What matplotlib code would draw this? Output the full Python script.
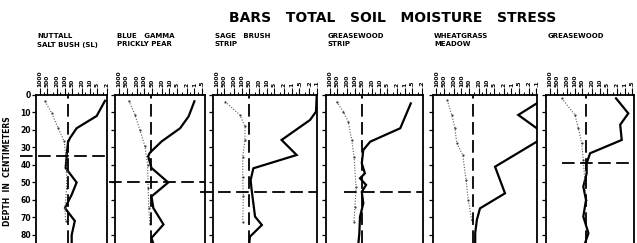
import matplotlib
matplotlib.use("Agg")
import matplotlib.pyplot as plt
from matplotlib.ticker import FixedLocator, FuncFormatter, NullFormatter

plt.rcParams["font.family"] = "DejaVu Sans"
plt.rcParams["font.weight"] = "bold"

TITLE = "BARS   TOTAL   SOIL   MOISTURE   STRESS"
panel_titles = [
    "NUTTALL\nSALT BUSH (SL)",
    "BLUE   GAMMA\nPRICKLY PEAR",
    "SAGE   BRUSH\nSTRIP",
    "GREASEWOOD\nSTRIP",
    "WHEATGRASS\nMEADOW",
    "GREASEWOOD",
]

# stress axis (bars, log scale) - left edge is the high stress end
x_left = 1400
x_right = [2.0, 0.39, 0.097, 0.18, 0.092, 0.42]
major_ticks = [1000, 500, 200, 100, 50, 20, 10, 5, 2, 1, 0.5, 0.2, 0.1]
minor_ticks = [700, 300, 150, 70, 30, 15, 7, 3, 1.5, 0.7, 0.3, 0.15]
depth_ticks = [0, 10, 20, 30, 40, 50, 60, 70, 80]

# vertical dashed reference stress and horizontal dashed depth per panel
ref_stress = [71, 54, 51, 49, 33, 36]
ref_depth = [35, 50, 55.6, 55.6, None, 39]

# total soil moisture stress (solid line)
nuttall_depth = [3.3, 12, 19, 24.6, 27, 35, 41.7, 50, 57, 64.6, 72, 80, 85]
nuttall_total = [2.4, 5.2, 33, 61, 73, 83, 91, 33, 52, 97, 39, 52, 52]
gamma_depth = [3.6, 12.2, 19, 26.5, 33, 35, 41.7, 50, 58, 64.6, 74, 81.7, 85]
gamma_total = [1.0, 1.7, 3.7, 20, 59, 69, 51, 11, 51, 43, 17, 51, 43]
sage_depth = [1, 9.5, 14.3, 25.7, 34.3, 41.9, 48.6, 54.3, 61.9, 69.5, 74.3, 81, 85]
sage_total = [0.103, 0.109, 0.19, 2.6, 0.65, 35, 45, 41, 35, 30, 16, 48, 51]
grease_strip_depth = [4.8, 19, 26.7, 31.4, 39, 44.8, 47.6, 51.4, 55.4, 61.9, 69.5, 79, 85]
grease_strip_total = [0.57, 1.5, 24, 45, 52, 39, 61, 35, 52, 45, 61, 65, 71]
wheat_depth = [1, 4.8, 11.4, 19, 23, 26.7, 41, 56.2, 64.8, 71.4, 79, 85]
wheat_total = [0.05, 0.097, 0.53, 0.097, 0.05, 0.097, 4.5, 1.8, 18, 24, 28, 28]
grease_depth = [1.9, 10.5, 17, 25.7, 33.3, 39, 44.8, 52.4, 60, 69.5, 79, 85]
grease_total = [2.2, 0.71, 1.5, 1.3, 24, 33, 33, 45, 35, 45, 28, 39]

# second profile (dotted line with dots)
nuttall_dot_depth = [3.6, 10.3, 19, 26.5, 34, 43.5, 53, 64.6, 72]
nuttall_dot = [611, 330, 180, 103, 91, 83, 83, 97, 91]
gamma_dot_depth = [3.3, 11.2, 19.8, 29.3, 39.8, 53, 64.6, 74]
gamma_dot = [407, 234, 148, 93, 73, 69, 65, 59]
sage_dot_depth = [3.8, 11.4, 18, 25.7, 35.2, 46.7, 58, 72.4]
sage_dot = [476, 120, 76, 76, 93, 93, 88, 93]
grease_strip_dot_depth = [3.8, 9.5, 15.2, 25.7, 35.2, 52.4, 63.8, 72.4]
grease_strip_dot = [522, 284, 180, 131, 106, 88, 97, 106]
wheat_dot_depth = [2.9, 11.4, 19, 27.6, 34.3, 48.6, 60, 71.4]
wheat_dot = [365, 243, 180, 153, 88, 65, 53, 39]
grease_dot_depth = [1.9, 11.4, 19, 27.6, 37.1, 49.5, 60]
grease_dot = [330, 97, 71, 52, 45, 39, 35]

solid = [
    (nuttall_depth, nuttall_total), (gamma_depth, gamma_total), (sage_depth, sage_total),
    (grease_strip_depth, grease_strip_total), (wheat_depth, wheat_total), (grease_depth, grease_total),
]
dotted = [
    (nuttall_dot_depth, nuttall_dot), (gamma_dot_depth, gamma_dot), (sage_dot_depth, sage_dot),
    (grease_strip_dot_depth, grease_strip_dot), (wheat_dot_depth, wheat_dot), (grease_dot_depth, grease_dot),
]

# layout (pixels in a 637 x 243 figure)
W, H = 637, 243
panel_left = [36, 115.3, 213.3, 326, 432.7, 546]
panel_width = [71, 89.4, 104, 97.3, 104.6, 88]
panel_top = 95
hline_start = [-0.23, -0.07, -0.13, 0.18, 0, 0.18]


def stress_label(v, pos=None):
    if v >= 1:
        return str(int(round(v)))
    return ("%g" % v).lstrip("0")


fig = plt.figure(figsize=(W / 100, H / 100), dpi=100)
fig.text(393 / W, 1 - 18 / H, TITLE, ha="center", va="center", fontsize=10, fontweight="bold")
fig.text(8 / W, 1 - 171 / H, "DEPTH  IN  CENTIMETERS", rotation=90, ha="center", va="center", fontsize=5.5)

for i in range(6):
    ax = fig.add_axes([panel_left[i] / W, 0, panel_width[i] / W, 1 - panel_top / H])
    ax.set_xscale("log")
    ax.set_xlim(x_left, x_right[i])
    ax.set_ylim(84.6, 0)

    d, s = solid[i]
    ax.plot(s, d, color="black", lw=1.6, solid_joinstyle="miter")
    d, s = dotted[i]
    ax.plot(s, d, color="0.35", lw=0.8, linestyle=(0, (1, 1.5)))
    ax.plot(s, d, linestyle="none", marker="o", ms=1.6, color="0.25", mec="none")

    ax.axvline(ref_stress[i], color="black", lw=1.3, dashes=(7, 3))
    if ref_depth[i] is not None:
        ax.axhline(ref_depth[i], xmin=hline_start[i], xmax=1, color="black", lw=1.3,
                   dashes=(7, 3), clip_on=False)

    ax.xaxis.tick_top()
    ax.xaxis.set_major_locator(FixedLocator(major_ticks))
    ax.xaxis.set_minor_locator(FixedLocator(minor_ticks))
    ax.xaxis.set_major_formatter(FuncFormatter(stress_label))
    ax.xaxis.set_minor_formatter(NullFormatter())
    ax.tick_params(axis="x", which="major", direction="out", length=5, width=0.8,
                   labelsize=4.3, pad=1, labelrotation=90)
    ax.tick_params(axis="x", which="minor", direction="out", length=2.5, width=0.7)

    ax.yaxis.set_major_locator(FixedLocator(depth_ticks))
    ax.tick_params(axis="y", direction="out", length=3, width=0.9, labelsize=5.5, pad=0.5,
                   labelleft=(i == 0))
    for side in ["top", "left", "right"]:
        ax.spines[side].set_linewidth(1.3)
    ax.spines["bottom"].set_visible(False)

    fig.text(panel_left[i] / W + 0.002, 1 - 33 / H, panel_titles[i], ha="left", va="top",
             fontsize=5, linespacing=1.5)

fig.savefig("out.png", dpi=100)
